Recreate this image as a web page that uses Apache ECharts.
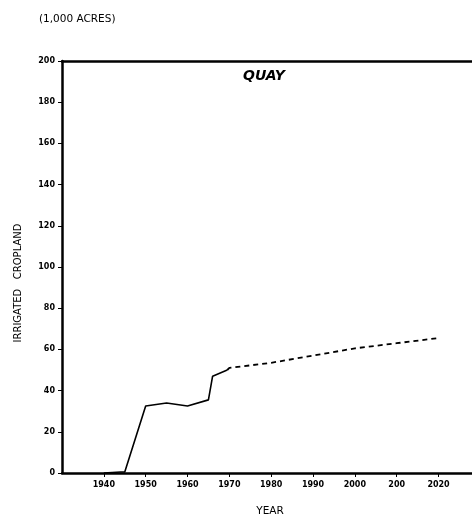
<!DOCTYPE html>
<html><head><meta charset="utf-8">
<script src="https://cdn.jsdelivr.net/npm/echarts@6/dist/echarts.min.js"></script>
<style>html,body{margin:0;padding:0;background:#fff}#c{width:472px;height:523px}</style>
</head><body><div id="c"></div>
<script>
const xTicks = [1940, 1950, 1960, 1970, 1980, 1990, 2000, 2010, 2020];
const xTickLabels = ['1940', '1950', '1960', '1970', '1980', '1990', '2000', '200', '2020'];
const yTicks = [0, 20, 40, 60, 80, 100, 120, 140, 160, 180, 200];
const yTickLabels = ['0', '20', '40', '60', '80', '100', '120', '140', '160', '180', '200'];
const histYears = [1940, 1944, 1945, 1950, 1955, 1960, 1965, 1966, 1969.5];
const histValues = [0, 0.5, 0.5, 32.5, 34, 32.5, 35.5, 47, 50];
const projYears = [1969.5, 1970, 1980, 1990, 2000, 2010, 2020];
const projValues = [50, 51, 53.5, 57, 60.5, 63, 65.5];

const chart = echarts.init(document.getElementById('c'), null, {renderer: 'canvas'});
const lbl = {fontFamily: 'DejaVu Sans', fontSize: 8, fontWeight: 'bold', color: '#000'};
chart.setOption({
  animation: false,
  backgroundColor: '#fff',
  title: [
    {text: '(1,000 ACRES)', left: 34, top: 9, textStyle: {fontFamily: 'DejaVu Sans', fontSize: 10.5, fontWeight: 'normal', color: '#000'}},
    {text: 'QUAY', left: 259, top: 64, textAlign: 'center', textStyle: {fontFamily: 'DejaVu Sans', fontSize: 14, fontWeight: 'bold', fontStyle: 'italic', color: '#000'}}
  ],
  graphic: [{
    type: 'text', x: 18, y: 283, rotation: Math.PI / 2,
    style: {text: 'IRRIGATED   CROPLAND', fontFamily: 'DejaVu Sans', fontSize: 10, fill: '#000', textAlign: 'center', textVerticalAlign: 'middle'}
  }],
  grid: {left: 62, top: 61, width: 410, bottom: 50},
  xAxis: [{
    type: 'value', min: 1930, max: 2028, interval: 10,
    name: 'YEAR', nameLocation: 'middle', nameGap: 33,
    nameTextStyle: {fontFamily: 'DejaVu Sans', fontSize: 10.5, color: '#000', padding: [0, 0, 0, 6]},
    axisLine: {lineStyle: {color: '#000', width: 2.5}},
    axisTick: {show: true, length: 4, lineStyle: {color: '#000', width: 1}},
    axisLabel: Object.assign({margin: 8, showMinLabel: false, showMaxLabel: false,
      formatter: v => { const i = xTicks.indexOf(Math.round(v)); return i >= 0 ? xTickLabels[i] : ''; }}, lbl),
    splitLine: {show: false}
  }, {
    type: 'value', position: 'top', min: 1930, max: 2028,
    axisLine: {show: true, lineStyle: {color: '#000', width: 2.5}},
    axisTick: {show: false}, axisLabel: {show: false}, splitLine: {show: false}
  }],
  yAxis: {
    type: 'value', min: 0, max: 200, interval: 20,
    axisLine: {show: true, lineStyle: {color: '#000', width: 2.5}},
    axisTick: {show: true, length: 4, lineStyle: {color: '#000', width: 1}},
    axisLabel: Object.assign({margin: 7,
      formatter: v => { const i = yTicks.indexOf(Math.round(v)); return i >= 0 ? yTickLabels[i] : ''; }}, lbl),
    splitLine: {show: false}
  },
  series: [{
    type: 'line', xAxisIndex: 0, showSymbol: false,
    data: histYears.map((y, i) => [y, histValues[i]]),
    lineStyle: {color: '#000', width: 1.6}
  }, {
    type: 'line', xAxisIndex: 0, showSymbol: false,
    data: projYears.map((y, i) => [y, projValues[i]]),
    lineStyle: {color: '#000', width: 1.8, type: [5, 4]}
  }]
});
</script></body></html>
